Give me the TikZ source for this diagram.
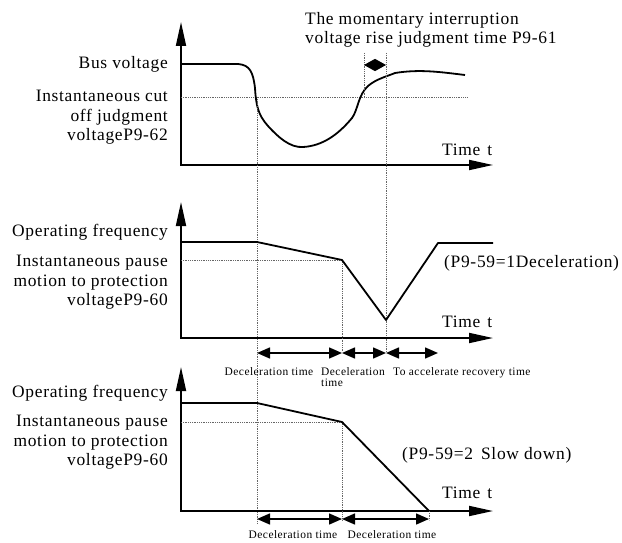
\documentclass[tikz,border=0pt]{standalone}
\usepackage{fontspec}
\setmainfont[LetterSpace=4]{Liberation Serif}
\usetikzlibrary{arrows.meta,positioning}

\begin{document}
\begin{tikzpicture}[x=1bp,y=-1bp,
	axes/.style={line width=1.8bp,line join=miter,{Triangle[length=24bp,width=10bp]}-{Triangle[length=24bp,width=10bp]}},
	curve/.style={line width=1.8bp,line join=round},
	guide/.style={black!60,densely dotted,line width=0.8bp},
	span/.style={line width=1.5bp,{Triangle[length=13bp,width=11bp]}-{Triangle[length=13bp,width=11bp]}},
	lbl/.style={font=\fontsize{17.5}{19.5}\selectfont,inner sep=0pt},
	small/.style={font=\fontsize{11.5}{11.5}\selectfont,inner sep=0pt}]
	\useasboundingbox (0,0) rectangle (622,543);

	% bus voltage
	\coordinate (ytop1) at (181,22);
	\coordinate (xend1) at (493,165);
	\draw[axes] (ytop1) |- (xend1);
	\node[lbl,anchor=east]                 (bus)   at (168,64) {Bus voltage};
	\node[lbl,anchor=north east,align=right] (cutoff) at (168,90) {Instantaneous cut\\off judgment\\voltageP9-62};
	\node[lbl,anchor=west]                 (time1) at (442,150) {Time\hspace{7bp}t};
	\node[lbl,anchor=north west,align=left] (rise) at (305,12) {The momentary interruption\\voltage rise judgment time P9-61};

	\coordinate (cutL) at (181,97);
	\coordinate (cutR) at (467,97);
	\draw[guide] (cutL) -- (cutR);
	\draw[curve] (181,64) -- (238,64)
		.. controls (250,65) and (253,72) .. (255,88)
		.. controls (256,105) and (258,115) .. (268,126)
		.. controls (278,137) and (290,148) .. (303,147)
		.. controls (322,146) and (338,135) .. (352,118)
		.. controls (358,110) and (358,95) .. (368,86)
		.. controls (376,79) and (388,76) .. (395,73)
		.. controls (420,69) and (440,72) .. (465,75);

	% guides across the charts
	\coordinate (t1a) at (257,97);
	\coordinate (t1b) at (257,523);
	\coordinate (t2a) at (364,53);
	\coordinate (t2b) at (364,97);
	\coordinate (t3a) at (386,53);
	\coordinate (t3b) at (386,352);
	\draw[guide] (t1a) -- (t1b);
	\draw[guide] (t2a) -- (t2b);
	\draw[guide] (t3a) -- (t3b);
	\coordinate (dl) at (364,65);
	\coordinate (dr) at (386,65);
	\draw[line width=1bp,{Triangle[length=11bp,width=12bp]}-{Triangle[length=11bp,width=12bp]}] (dl) -- (dr);

	% P9-59=1
	\coordinate (ytop2) at (181,202);
	\coordinate (xend2) at (493,338);
	\draw[axes] (ytop2) |- (xend2);
	\node[lbl,anchor=east]                 (freq2)  at (168,232) {Operating frequency};
	\node[lbl,anchor=north east,align=right] (pause2) at (168,255) {Instantaneous pause\\motion to protection\\voltageP9-60};
	\node[lbl,anchor=west]                 (time2)  at (442,322) {Time\hspace{7bp}t};
	\node[lbl,anchor=west]                 (mode1)  at (444,263) {(P9-59=1Deceleration)};

	\coordinate (p2L) at (181,260);
	\coordinate (p2R) at (342,260);
	\coordinate (p2D) at (342,352);
	\draw[guide] (p2L) -- (p2R) -- (p2D);
	\draw[curve] (181,242) -- (257,242) -- (342,260) -- (386,320) -- (438,243) -- (493,243);

	\coordinate (a1) at (257,353);
	\coordinate (a2) at (342,353);
	\coordinate (a3) at (386,353);
	\coordinate (a4) at (438,353);
	\draw[span] (a1) -- (a2);
	\draw[span] (a2) -- (a3);
	\draw[span] (a3) -- (a4);
	\node[small,anchor=north] (dec1) at (269,367) {Deceleration time};
	\node[small,anchor=north west,align=left] (dec2) at (321,367) {Deceleration\\time};
	\node[small,anchor=north west] (acc) at (393,367) {To accelerate recovery time};

	% P9-59=2
	\coordinate (ytop3) at (181,367);
	\coordinate (xend3) at (493,511);
	\draw[axes] (ytop3) |- (xend3);
	\node[lbl,anchor=east]                 (freq3)  at (168,393) {Operating frequency};
	\node[lbl,anchor=north east,align=right] (pause3) at (168,415) {Instantaneous pause\\motion to protection\\voltageP9-60};
	\node[lbl,anchor=west]                 (time3)  at (442,493) {Time\hspace{7bp}t};
	\node[lbl,anchor=west]                 (mode2)  at (402,455) {(P9-59=2\hspace{8bp}Slow down)};

	\coordinate (p3L) at (181,422);
	\coordinate (p3R) at (342,422);
	\coordinate (p3D) at (342,520);
	\draw[guide] (p3L) -- (p3R) -- (p3D);
	\coordinate (z3)  at (429,511);
	\coordinate (z3D) at (429,520);
	\draw[guide] (z3) -- (z3D);
	\draw[curve] (181,403) -- (257,403) -- (342,422) -- (z3);

	\coordinate (b1) at (257,519);
	\coordinate (b2) at (342,519);
	\coordinate (b3) at (429,519);
	\draw[span] (b1) -- (b2);
	\draw[span] (b2) -- (b3);
	\node[small,anchor=north] (dec3) at (293,530) {Deceleration time};
	\node[small,anchor=north] (dec4) at (392,530) {Deceleration time};
\end{tikzpicture}
\end{document}
